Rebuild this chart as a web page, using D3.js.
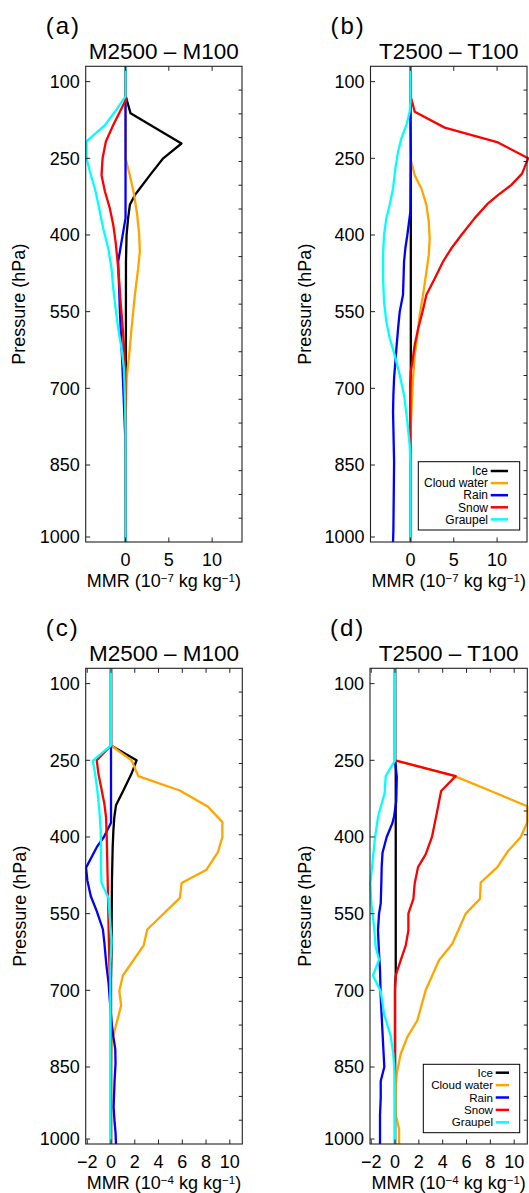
<!DOCTYPE html>
<html><head><meta charset="utf-8">
<script src="https://cdn.jsdelivr.net/npm/d3@7"></script>
<style>
body{margin:0;background:#fff;}
svg{display:block;}
text{font-family:"Liberation Sans",Arial,Helvetica,sans-serif;fill:#000;}
</style>
</head><body>
<svg id="chart" width="529" height="1193"></svg>
<script>
// ---------- data: [pressure hPa, MMR difference] ----------
const seriesNames = ["Ice", "Cloud water", "Rain", "Snow", "Graupel"];
const pressureTicks = [100, 250, 400, 550, 700, 850, 1000];
const xTicksTop = [0, 5, 10];
const xTicksBottom = [-2, 0, 2, 4, 6, 8, 10];

// (a) M2500 - M100, 10^-7 kg/kg
const a_ice = [[70,0],[130,0],[133,0.1],[162,0.58],[221,6.46],[250,4.35],[279,3.0],[309,1.65],[322,1.08],[341,0.5],[367,0.3],[400,0.12],[452,0.05],[650,0.04],[700,0],[1010,0]];
const a_cloud = [[70,0],[250,0],[257,0.1],[283,0.5],[322,1.0],[361,1.35],[400,1.58],[433,1.65],[465,1.46],[517,1.08],[583,0.69],[635,0.42],[680,0.12],[713,0.04],[760,0],[1010,0]];
const a_rain = [[70,0],[367,0],[452,-0.85],[550,-0.65],[648,-0.38],[745,-0.15],[811,0],[1010,0.05]];
const a_snow = [[70,0],[128,0],[133,0.1],[159,-0.65],[185,-1.42],[217,-2.27],[250,-2.65],[283,-2.77],[315,-2.38],[348,-1.81],[380,-1.42],[413,-1.15],[452,-0.92],[491,-0.73],[530,-0.58],[570,-0.38],[615,-0.19],[661,-0.04],[713,0],[1010,0]];
const a_graupel = [[70,0],[129,0],[159,-1.23],[185,-2.38],[217,-4.5],[250,-4.5],[276,-4.12],[309,-3.54],[348,-3.04],[387,-2.58],[426,-2.0],[465,-1.62],[504,-1.42],[543,-1.15],[583,-0.85],[622,-0.46],[661,-0.19],[713,-0.08],[778,0],[1010,0]];

// (b) T2500 - T100, 10^-7 kg/kg
const b_ice = [[70,0],[250,0.05],[670,0.05],[690,0],[1010,0]];
const b_cloud = [[70,0],[250,0],[257,0.1],[283,0.5],[309,1.27],[341,1.85],[374,2.12],[407,2.23],[439,2.12],[472,1.85],[517,1.46],[556,1.08],[596,0.81],[635,0.5],[680,0.31],[746,0.12],[778,0.04],[824,0],[1010,0]];
const b_rain = [[70,0],[150,0],[250,0.05],[354,0],[400,-0.35],[426,-0.58],[452,-0.73],[517,-0.85],[550,-1.23],[583,-1.42],[615,-1.58],[648,-1.73],[680,-1.88],[713,-1.96],[746,-2.0],[778,-1.96],[844,-1.88],[914,-1.92],[986,-1.96],[1010,-2.0]];
const b_snow = [[70,0],[128,0],[133,0.1],[159,0.5],[190,3.96],[219,10.1],[250,13.58],[280,12.88],[302,11.65],[322,10.1],[338,8.96],[367,7.42],[400,5.88],[426,4.73],[452,3.77],[485,2.81],[517,1.85],[550,1.4],[583,0.9],[615,0.5],[648,0.23],[667,0.04],[713,0],[1010,0]];
const b_graupel = [[70,0],[139,0],[159,-0.08],[185,-0.46],[211,-1.04],[237,-1.42],[270,-1.73],[309,-2.0],[341,-2.38],[367,-2.77],[400,-3.04],[439,-3.15],[485,-3.15],[530,-3.04],[570,-2.77],[602,-2.38],[635,-1.81],[674,-1.23],[713,-0.73],[765,-0.35],[811,-0.08],[844,0],[1010,0]];

// (c) M2500 - M100, 10^-4 kg/kg
const c_ice = [[70,0],[221,0],[250,2.15],[276,1.73],[309,1.04],[338,0.42],[361,0.28],[387,0.2],[420,0.14],[485,0.08],[550,0.06],[615,0.05],[680,0],[1010,0]];
const c_cloud = [[70,0],[221,0],[250,1.73],[281,2.29],[309,5.79],[341,8.17],[371,9.37],[400,9.37],[429,9.01],[464,8.04],[490,5.94],[519,5.8],[581,3.05],[612,2.75],[671,1.0],[701,0.7],[730,0.85],[788,0.2],[800,0.06],[850,0],[1010,0]];
const c_rain = [[70,0],[372,0],[400,-0.6],[420,-1.2],[460,-2.1],[485,-1.99],[516,-1.7],[545,-1.2],[581,-0.68],[609,-0.55],[648,-0.4],[687,-0.2],[726,-0.08],[765,0.06],[791,0.2],[815,0.36],[843,0.38],[879,0.3],[933,0.22],[965,0.3],[986,0.38],[1010,0.42]];
const c_snow = [[70,0],[221,0],[250,-1.2],[276,-1.06],[309,-0.78],[335,-0.56],[361,-0.42],[400,-0.36],[452,-0.31],[517,-0.25],[583,-0.2],[648,-0.14],[713,-0.03],[778,0],[1010,0]];
const c_graupel = [[70,0],[221,0],[251,-1.54],[276,-1.34],[309,-1.15],[348,-0.98],[387,-0.87],[426,-0.84],[465,-0.84],[490,-0.8],[519,-0.22],[604,0.05],[648,-0.05],[713,-0.06],[778,-0.05],[1010,-0.05]];

// (d) T2500 - T100, 10^-4 kg/kg
const d_ice = [[70,0],[250,0],[260,0.06],[670,0.06],[690,0],[1010,0]];
const d_cloud = [[70,0],[250,0],[281,5.0],[310,8.04],[340,11.1],[371,11.1],[400,10.55],[429,9.43],[459,8.59],[489,7.19],[521,7.13],[550,5.93],[609,4.81],[641,3.69],[700,2.57],[759,1.87],[791,1.04],[824,0.48],[864,0.14],[886,0.06],[950,0.06],[979,0.34],[1010,0.34]];
const d_rain = [[70,0],[250,0],[283,0.15],[330,0.1],[360,-0.08],[373,-0.22],[400,-0.7],[431,-1.05],[459,-1.12],[491,-1.15],[530,-1.2],[550,-1.34],[583,-1.43],[628,-1.34],[661,-1.26],[713,-1.2],[778,-1.06],[850,-0.9],[879,-1.2],[914,-1.2],[950,-1.26],[1010,-1.26]];
const d_snow = [[70,0],[250,0],[281,5.09],[310,3.87],[354,3.5],[400,3.1],[434,2.57],[459,1.93],[491,1.65],[521,1.54],[550,1.12],[583,1.12],[612,0.9],[641,0.48],[671,0.06],[700,0],[1010,0]];
const d_graupel = [[70,0],[250,0],[281,-0.78],[314,-0.87],[361,-1.43],[405,-1.7],[452,-1.9],[491,-2.07],[530,-1.99],[576,-1.76],[615,-1.62],[640,-1.34],[671,-1.85],[702,-1.2],[746,-0.92],[790,-0.36],[824,-0.15],[864,-0.03],[914,0],[1010,0]];

// ---------- styling / layout ----------
const colors = ["#000000", "#FFA500", "#0000FF", "#FF0000", "#00FFFF"];

const panels = [
  {letter:"(a)", title:"M2500 \u2013 M100", exp:"\u22127", series:[a_ice,a_cloud,a_rain,a_snow,a_graupel],
   xDomain:[-4.6,13.45], ticks:xTicksTop, x0:85.7, x1:242, y0:66.3, ylabX:25, legend:null},
  {letter:"(b)", title:"T2500 \u2013 T100", exp:"\u22127", series:[b_ice,b_cloud,b_rain,b_snow,b_graupel],
   xDomain:[-4.6,13.45], ticks:xTicksTop, x0:370.5, x1:527, y0:66.3, ylabX:310.5,
   legend:{x0:418.3,y0:461.7,x1:519.7,y1:530,textX:488,lx0:490.7,lx1:508,row0:471,step:12.1,fs:12}},
  {letter:"(c)", title:"M2500 \u2013 M100", exp:"\u22124", series:[c_ice,c_cloud,c_rain,c_snow,c_graupel],
   xDomain:[-2.13,11.05], ticks:xTicksBottom, x0:85.7, x1:242.3, y0:668.3, ylabX:26, legend:null},
  {letter:"(d)", title:"T2500 \u2013 T100", exp:"\u22124", series:[d_ice,d_cloud,d_rain,d_snow,d_graupel],
   xDomain:[-2.1,11.1], ticks:xTicksBottom, x0:370, x1:527.3, y0:668.3, ylabX:311,
   legend:{x0:423.3,y0:1064.3,x1:519.7,y1:1132.7,textX:493,lx0:495.7,lx1:509,row0:1072.7,step:12.4,fs:11.6}}
];

const svg = d3.select("#chart");
svg.append("rect").attr("width",529).attr("height",1193).attr("fill","#fff");

panels.forEach(P => {
  const g = svg.append("g");
  const top = P.y0;
  const x = d3.scaleLinear().domain(P.xDomain).range([P.x0, P.x1]);
  const y = d3.scaleLinear().domain([70, 850, 1000, 1010]).range([top, top + 398.7, top + 470.7, top + 475.7]);
  const bottom = y(1010);
  const yRight = d3.scaleLinear().domain([0, 20]).range([top, bottom]);

  // data lines
  const line = d3.line().x(d => x(d[1])).y(d => y(d[0]));
  P.series.forEach((s, i) => {
    g.append("path").datum(s).attr("d", line)
      .attr("fill", "none").attr("stroke", colors[i])
      .attr("stroke-width", 2.3).attr("stroke-linejoin", "round").attr("stroke-linecap", "butt");
  });

  // frame
  g.append("rect").attr("x", P.x0).attr("y", top).attr("width", P.x1 - P.x0).attr("height", bottom - top)
    .attr("fill", "none").attr("stroke", "#222").attr("stroke-width", 1.1);

  const tl = 4.5;
  // x ticks top & bottom (inward)
  P.ticks.forEach(t => {
    const xx = x(t);
    g.append("line").attr("x1", xx).attr("x2", xx).attr("y1", top).attr("y2", top + tl).attr("stroke", "#222");
    g.append("line").attr("x1", xx).attr("x2", xx).attr("y1", bottom).attr("y2", bottom - tl).attr("stroke", "#222");
    g.append("text").attr("x", xx).attr("y", bottom + 23.5).attr("text-anchor", "middle")
      .attr("font-size", 18).text(d3.format("")(t));
  });
  // y ticks left (inward)
  pressureTicks.forEach(p => {
    const yy = y(p);
    g.append("line").attr("x1", P.x0).attr("x2", P.x0 + tl).attr("y1", yy).attr("y2", yy).attr("stroke", "#222");
    g.append("text").attr("x", P.x0 - 6).attr("y", yy).attr("dy", "0.36em").attr("text-anchor", "end")
      .attr("font-size", 18).text(p);
  });
  // right ticks
  d3.range(1, 20).forEach(k => {
    const yy = yRight(k);
    g.append("line").attr("x1", P.x1).attr("x2", P.x1 - 3.5).attr("y1", yy).attr("y2", yy).attr("stroke", "#222");
  });

  // title & letter
  g.append("text").attr("x", (P.x0 + P.x1) / 2).attr("y", top - 7).attr("text-anchor", "middle")
    .attr("font-size", 22.5).text(P.title);
  g.append("text").attr("x", P.x0 - 40).attr("y", top - 32.5).attr("font-size", 24)
    .attr("letter-spacing", "2px").text(P.letter);

  // y label
  g.append("text").attr("transform", `translate(${P.ylabX},${(top + bottom) / 2}) rotate(-90)`)
    .attr("text-anchor", "middle").attr("font-size", 18).text("Pressure (hPa)");

  // x label
  const xl = g.append("text").attr("x", (P.x0 + P.x1) / 2).attr("y", bottom + 44.8)
    .attr("text-anchor", "middle").attr("font-size", 18);
  xl.append("tspan").text("MMR (10");
  xl.append("tspan").attr("dy", -4.5).attr("font-size", 11.5).text(P.exp);
  xl.append("tspan").attr("dy", 4.5).text(" kg kg");
  xl.append("tspan").attr("dy", -4.5).attr("font-size", 11.5).text("\u22121");
  xl.append("tspan").attr("dy", 4.5).text(")");

  // legend
  if (P.legend) {
    const L = P.legend;
    g.append("rect").attr("x", L.x0).attr("y", L.y0).attr("width", L.x1 - L.x0).attr("height", L.y1 - L.y0)
      .attr("fill", "#fff").attr("stroke", "#000").attr("stroke-width", 1);
    seriesNames.forEach((n, i) => {
      const yy = L.row0 + i * L.step;
      g.append("text").attr("x", L.textX).attr("y", yy).attr("dy", "0.35em").attr("text-anchor", "end")
        .attr("font-size", L.fs).text(n);
      g.append("line").attr("x1", L.lx0).attr("x2", L.lx1).attr("y1", yy).attr("y2", yy)
        .attr("stroke", colors[i]).attr("stroke-width", 2.5);
    });
  }
});
</script>
</body></html>
